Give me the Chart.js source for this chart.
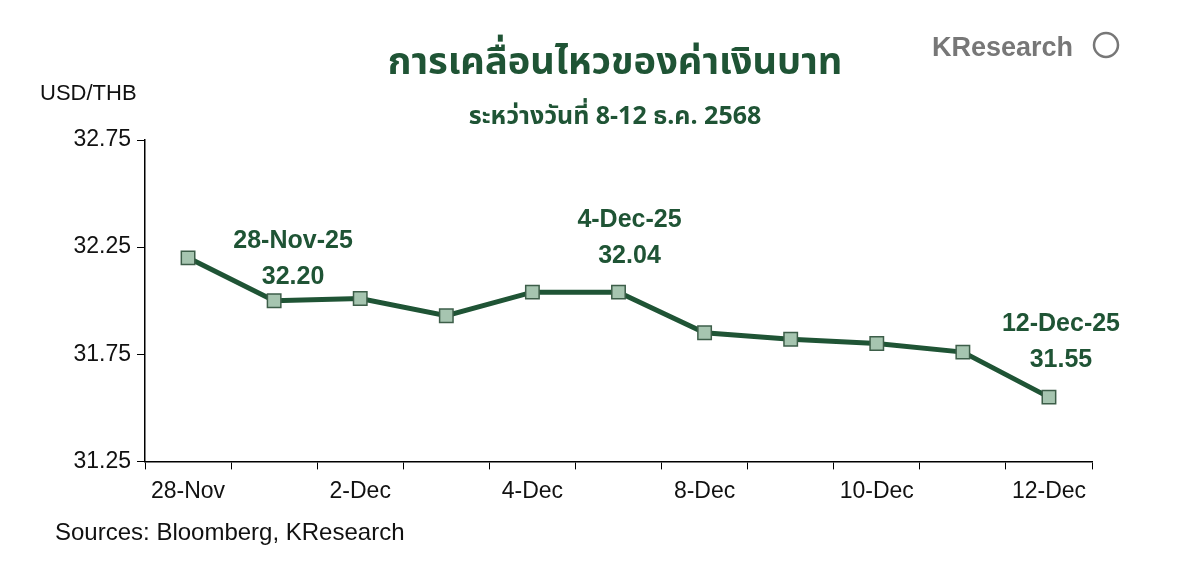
<!DOCTYPE html>
<html><head><meta charset="utf-8">
<script src="https://cdn.jsdelivr.net/npm/chart.js@4"></script>
<style>body{margin:0;background:#fff;}#w{position:relative;width:1200px;height:566px;}</style>
</head><body><div id="w"><canvas id="c" width="1200" height="566"></canvas></div>
<script>
const categories=["28-Nov","1-Dec","2-Dec","3-Dec","4-Dec","5-Dec","8-Dec","9-Dec","10-Dec","11-Dec","12-Dec"];
const shownLabels=["28-Nov","2-Dec","4-Dec","8-Dec","10-Dec","12-Dec"];
const rates=[32.20,32.00,32.01,31.93,32.04,32.04,31.85,31.82,31.80,31.76,31.55];
const yTicks=[31.25,31.75,32.25,32.75];
const notes=[{i:0,t:["28-Nov-25","32.20"],dx:105,dy:-10},{i:5,t:["4-Dec-25","32.04"],dx:11,dy:-65},{i:10,t:["12-Dec-25","31.55"],dx:12,dy:-66}];
const green="#1f5435";
const extra={id:'extra',afterDraw(ch){const c=ch.ctx,m=ch.getDatasetMeta(0);
 c.save();c.fillStyle=green;c.textAlign='center';c.font='bold 25px "Liberation Sans",Arial';
 notes.forEach(n=>{const p=m.data[n.i];c.fillText(n.t[0],p.x+n.dx,p.y+n.dy);c.fillText(n.t[1],p.x+n.dx,p.y+n.dy+36);});
 c.font='bold 38px "Noto Sans Thai","Noto Sans",sans-serif';c.fillText('การเคลื่อนไหวของค่าเงินบาท',615,74);
 c.font='bold 25px "Noto Sans Thai","Noto Sans",sans-serif';c.fillText('ระหว่างวันที่ 8-12 ธ.ค. 2568',615,124);
 c.fillStyle='#777';c.textAlign='left';c.font='bold 27px "Liberation Sans",Arial';c.fillText('KResearch',932,56);
 c.strokeStyle='#777';c.lineWidth=2.5;c.beginPath();c.arc(1106,45,12,0,Math.PI*2);c.stroke();
 c.fillStyle='#111';c.font='22px "Liberation Sans",Arial';c.fillText('USD/THB',40,100);
 c.font='24px "Liberation Sans",Arial';c.fillText('Sources: Bloomberg, KResearch',55,540);c.restore();}};
new Chart(document.getElementById('c'),{type:'line',
 data:{labels:categories,datasets:[
  {data:rates,borderColor:green,borderWidth:5,pointStyle:'rect',pointRadius:9.5,pointBackgroundColor:'#a6c5b0',pointBorderColor:'#3d5e49',pointBorderWidth:1.5,order:0},
  {data:rates,borderColor:'#9bb8a4',borderWidth:1.5,pointRadius:0,order:1}]},
 options:{responsive:false,animation:false,
  plugins:{legend:{display:false},tooltip:{enabled:false}},
  scales:{x:{offset:true,grid:{display:true,drawOnChartArea:false,offset:true,color:'#000',tickLength:8},border:{color:'#000',width:1.5},
    ticks:{autoSkip:false,maxRotation:0,color:'#111',padding:8,font:{size:23,family:'"Liberation Sans",Arial'},callback:(v,i)=>shownLabels.includes(categories[i])?categories[i]:''}},
   y:{min:31.25,max:32.75,afterBuildTicks:a=>{a.ticks=yTicks.map(v=>({value:v}));},afterFit:a=>{a.width=145;},
    grid:{drawOnChartArea:false,color:'#000',tickLength:8},border:{color:'#000',width:1.5},
    ticks:{color:'#111',padding:6,font:{size:23,family:'"Liberation Sans",Arial'},callback:v=>v.toFixed(2)}}}},
 plugins:[extra,{id:'pad',beforeLayout(ch){ch.options.layout.padding={top:140,right:108,bottom:53,left:0};}}]});
</script></body></html>
